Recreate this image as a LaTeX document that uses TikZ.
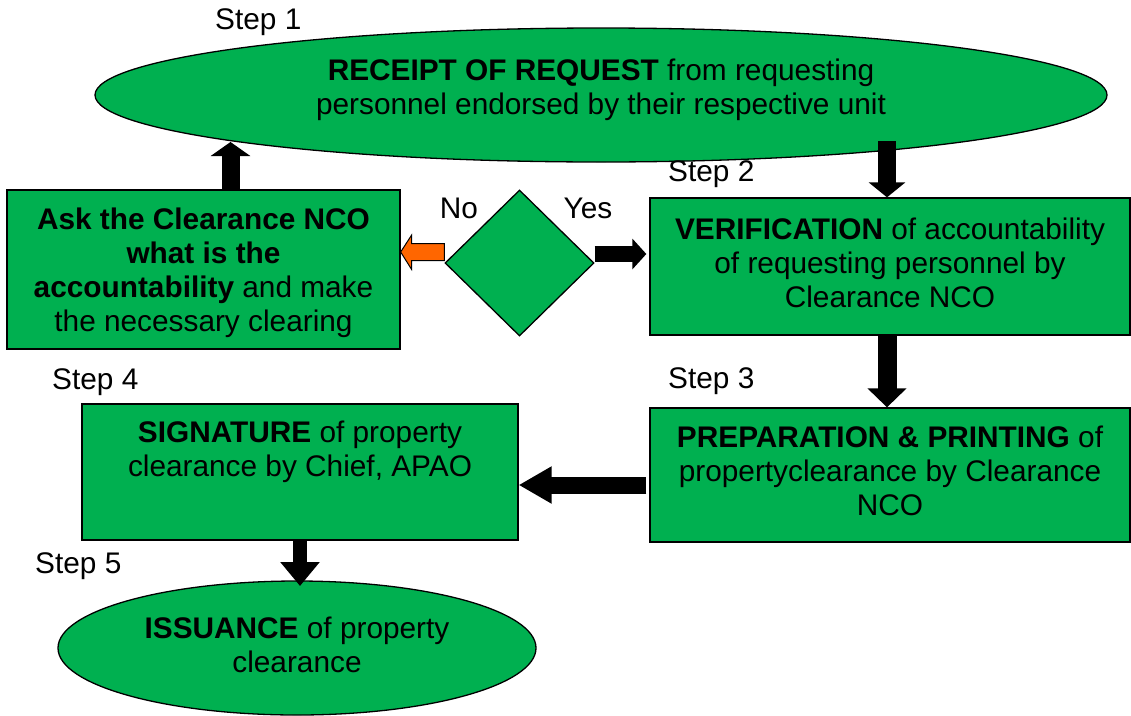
\documentclass[tikz,border=0pt]{standalone}
\usepackage{fontspec}
\setmainfont{Liberation Sans}
\usetikzlibrary{arrows.meta,shapes.geometric,calc}
\definecolor{boxgreen}{HTML}{00B050}
\definecolor{noorange}{HTML}{FF6600}
\begin{document}
\begin{tikzpicture}[x=1pt,y=-1pt,
  txt/.style={font=\fontsize{29.8}{34}\selectfont, align=center, inner sep=0pt},
  gbox/.style={draw=black, line width=1.3pt, fill=boxgreen, rectangle, inner sep=0pt},
  gell/.style={draw=black, line width=1.3pt, fill=boxgreen, ellipse, inner sep=0pt},
  steplbl/.style={font=\fontsize{29.8}{34}\selectfont, anchor=west, inner sep=0pt},
  blockarrow/.style={draw=black, line cap=butt}
]
\useasboundingbox (0,0) rectangle (1131,715);

% shapes
\node[gell, minimum width=1012pt, minimum height=134pt] (top) at (601,95) {};
\node[txt] (ttop) at (601,89.5) {\textbf{RECEIPT OF REQUEST} from requesting\\personnel endorsed by their respective unit};

\node[gbox, minimum width=393pt, minimum height=159pt] (ask) at (203.5,269.5) {};
\node[txt] (task) at (203.5,273) {\textbf{Ask the Clearance NCO}\\\textbf{what is the}\\\textbf{accountability} and make\\the necessary clearing};

\node[draw=black, line width=1.3pt, fill=boxgreen, diamond, inner sep=0pt,
      minimum width=149pt, minimum height=146pt] (d) at (519.5,263) {};

\node[gbox, minimum width=480pt, minimum height=137pt] (verif) at (890,266.5) {};
\node[txt] (tverif) at (890,263) {\textbf{VERIFICATION} of accountability\\of requesting personnel by\\Clearance NCO};

\node[gbox, minimum width=480pt, minimum height=134pt] (prep) at (890,475) {};
\node[txt] (tprep) at (890,471) {\textbf{PREPARATION \& PRINTING} of\\propertyclearance by Clearance\\NCO};

\node[gbox, minimum width=436pt, minimum height=136pt] (sig) at (300,472) {};
\node[txt] (tsig) at (300,452) {\textbf{SIGNATURE} of property\\clearance by Chief, APAO};

\node[gell, minimum width=478pt, minimum height=134pt] (iss) at (297,648) {};
\node[txt] (tiss) at (297,645) {\textbf{ISSUANCE} of property\\clearance};

% labels
\node[steplbl] (s1) at (215,22) {Step 1};
\node[steplbl] (s2) at (668,174) {Step 2};
\node[steplbl] (s3) at (668,381) {Step 3};
\node[steplbl] (s4) at (52,382) {Step 4};
\node[steplbl] (s5) at (35,566) {Step 5};
\node[txt] (no) at (459,208) {No};
\node[txt] (yes) at (588,208) {Yes};

% connector end points
\coordinate (u1) at (230.5,142);
\coordinate (d1) at (887,141);

% arrows
\draw[blockarrow, line width=18pt, -{Triangle[width=39pt,length=14pt]}]
  (ask.north -| u1) -- (u1);
\draw[blockarrow, line width=18pt, -{Triangle[width=36pt,length=15pt]}]
  (d1) -- (verif.north -| d1);
\draw[blockarrow, line width=19pt, -{Triangle[width=38pt,length=19pt]}]
  (verif.south -| d1) -- (prep.north -| d1);
\draw[blockarrow, line width=16pt, -{Triangle[width=30pt,length=14pt]}, shorten >=3pt]
  (d.east |- 0,254) -- (verif.west |- 0,254);
\draw[blockarrow, line width=17pt, -{Triangle[width=35pt,length=33pt]}, shorten <=3pt]
  (prep.west |- 0,485) -- (sig.east |- 0,485);
\coordinate (d5) at (300,586);
\draw[blockarrow, line width=14pt, -{Triangle[width=38pt,length=24pt]}]
  (sig.south -| d5) -- (d5);

% orange "No" arrow
\coordinate (os) at (d.west |- 0,252);
\coordinate (ot) at (ask.east |- 0,252);
\draw[draw=black, line width=1pt, fill=noorange, line join=miter]
  ($(os)+(0,-8.5)$) -- ($(ot)+(11,-8.5)$) -- ($(ot)+(11,-17)$) -- (ot)
  -- ($(ot)+(11,17.5)$) -- ($(ot)+(11,8.5)$) -- ($(os)+(0,8.5)$) -- cycle;
\end{tikzpicture}
\end{document}
